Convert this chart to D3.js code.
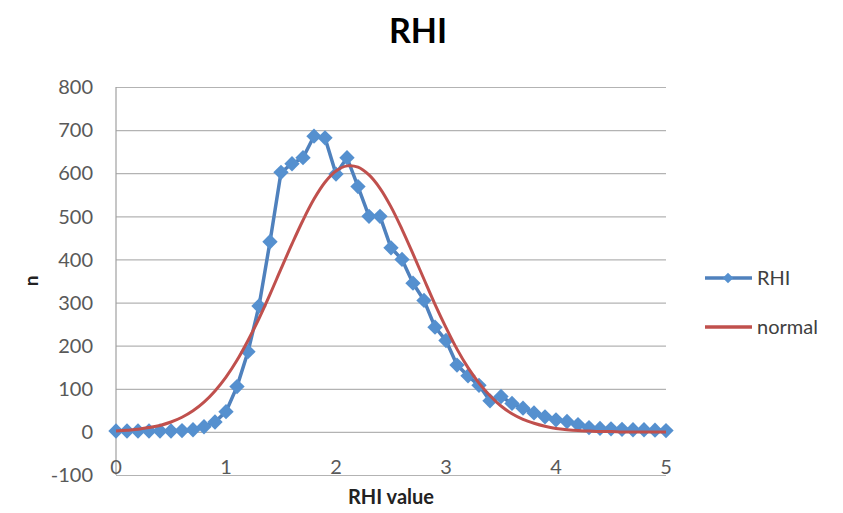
<!DOCTYPE html>
<html>
<head>
<meta charset="utf-8">
<script src="https://cdn.jsdelivr.net/npm/d3@7"></script>
<style>
  body { margin: 0; background: #fff; }
  svg { font-family: Lato, "Open Sans", sans-serif; }
</style>
</head>
<body>
<svg id="chart" width="843" height="513"></svg>
<script>
// RHI value (x)
const rhiX = [0, 0.1, 0.2, 0.3, 0.4, 0.5, 0.6, 0.7, 0.8, 0.9,
  1, 1.1, 1.2, 1.3, 1.4, 1.5, 1.6, 1.7, 1.8, 1.9,
  2, 2.1, 2.2, 2.3, 2.4, 2.5, 2.6, 2.7, 2.8, 2.9,
  3, 3.1, 3.2, 3.3, 3.4, 3.5, 3.6, 3.7, 3.8, 3.9,
  4, 4.1, 4.2, 4.3, 4.4, 4.5, 4.6, 4.7, 4.8, 4.9, 5];

// observed counts
const rhiCounts = [2, 2, 2, 2, 2, 2, 3, 5, 12, 23,
  47, 105, 186, 292, 441, 602, 622, 636, 686, 682,
  598, 636, 569, 500, 500, 427, 400, 345, 305, 243,
  212, 155, 130, 108, 72, 82, 66, 55, 44, 35,
  28, 24, 17, 10, 8, 7, 6, 5, 5, 4, 3];

// fitted normal curve
const normalCounts = [2, 4, 6, 10, 15, 23, 34, 49, 69, 95,
  127, 166, 212, 263, 319, 378, 436, 491, 540, 579,
  605, 617, 614, 596, 565, 522, 470, 413, 354, 296,
  242, 192, 149, 113, 84, 60, 42, 29, 20, 13,
  8, 5, 3, 2, 1, 1, 0, 0, 0, 0, 0];

const yTicks = [-100, 0, 100, 200, 300, 400, 500, 600, 700, 800];
const xTicks = [0, 1, 2, 3, 4, 5];

const svg = d3.select("#chart");
const blue = "#4F81BD";
const markerBlue = "#5590cf";
const red = "#C0504D";

const x = d3.scaleLinear().domain([0, 5]).range([116, 666]);
const y = d3.scaleLinear().domain([-100, 800]).range([475, 87]);

//Gridlines
svg.append("g")
  .attr("transform", "translate(116,0)")
  .call(d3.axisLeft(y).tickValues(yTicks).tickSize(-550).tickFormat(""))
  .call(g => g.select(".domain").remove())
  .call(g => g.selectAll("line").attr("stroke", "#b3b3b3").attr("stroke-width", 1.2));

//Vertical axis line
svg.append("line")
  .attr("x1", 116).attr("x2", 116)
  .attr("y1", y(800)).attr("y2", y(-100))
  .attr("stroke", "#a0a0a0").attr("stroke-width", 1.2);

//Y tick labels
svg.append("g").selectAll("text")
  .data(yTicks).enter().append("text")
  .attr("x", 93).attr("y", d => y(d))
  .attr("dy", "0.36em")
  .attr("text-anchor", "end")
  .style("font-size", "20px")
  .attr("fill", "#595959")
  .text(d => d);

//X tick labels
svg.append("g").selectAll("text")
  .data(xTicks).enter().append("text")
  .attr("x", d => x(d)).attr("y", 474)
  .attr("text-anchor", "middle")
  .style("font-size", "20px")
  .attr("fill", "#595959")
  .text(d => d);

//RHI series
const pts = rhiX.map((v, i) => ({ x: v, obs: rhiCounts[i], fit: normalCounts[i] }));

svg.append("path")
  .datum(pts)
  .attr("fill", "none")
  .attr("stroke", blue)
  .attr("stroke-width", 3.5)
  .attr("d", d3.line().x(d => x(d.x)).y(d => y(d.obs)));

const diamond = d3.symbol().type(d3.symbolDiamond2).size(150);
svg.append("g").selectAll("path")
  .data(pts).enter().append("path")
  .attr("d", diamond)
  .attr("transform", d => `translate(${x(d.x)},${y(d.obs)})`)
  .attr("fill", markerBlue);

//Normal curve
svg.append("path")
  .datum(pts)
  .attr("fill", "none")
  .attr("stroke", red)
  .attr("stroke-width", 3)
  .attr("d", d3.line().curve(d3.curveCatmullRom).x(d => x(d.x)).y(d => y(d.fit)));

//Titles
svg.append("text")
  .attr("x", 418).attr("y", 43)
  .attr("text-anchor", "middle")
  .style("font-size", "34px").style("font-weight", "bold")
  .attr("fill", "#000")
  .text("RHI");

svg.append("text")
  .attr("x", 391).attr("y", 504)
  .attr("text-anchor", "middle")
  .style("font-size", "20px").style("font-weight", "bold")
  .attr("fill", "#222")
  .text("RHI value");

svg.append("text")
  .attr("transform", "translate(38,281) rotate(-90)")
  .attr("text-anchor", "middle")
  .style("font-size", "19px").style("font-weight", "bold")
  .attr("fill", "#222")
  .text("n");

//Legend
const legend = [
  { name: "RHI", color: blue, marker: true, y: 278 },
  { name: "normal", color: red, marker: false, y: 327 }
];
legend.forEach(l => {
  svg.append("line")
    .attr("x1", 705).attr("x2", 752)
    .attr("y1", l.y).attr("y2", l.y)
    .attr("stroke", l.color).attr("stroke-width", 3.5);
  if (l.marker) {
    svg.append("path")
      .attr("d", d3.symbol().type(d3.symbolDiamond2).size(70))
      .attr("transform", `translate(728,${l.y})`)
      .attr("fill", markerBlue);
  }
  svg.append("text")
    .attr("x", 757).attr("y", l.y)
    .attr("dy", "0.36em")
    .style("font-size", "20px")
    .attr("fill", "#404040")
    .text(l.name);
});
</script>
</body>
</html>
